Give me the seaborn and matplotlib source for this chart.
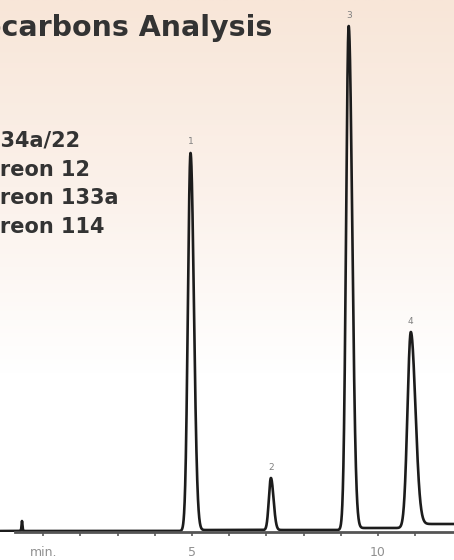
import numpy as np
import pandas as pd
import seaborn as sns
import matplotlib.pyplot as plt
from matplotlib.colors import LinearSegmentedColormap

# peak table (time in min, height in detector units)
peak_ids = ['1', '2', '3', '4']
peak_times = [4.96, 7.12, 9.21, 10.88]
peak_heights = [378, 52, 504, 196]
peak_sigma_left = [0.07, 0.055, 0.07, 0.09]
peak_sigma_right = [0.09, 0.07, 0.095, 0.125]
peak_tail = [1.0, 0.0, 2.0, 4.0]

compounds = ['134a/22', 'Freon 12', 'Freon 133a', 'Freon 114']

spike_time = 0.43
spike_height = 10

x_ticks = [1, 2, 3, 4, 5, 6, 7, 8, 9, 10, 11]
x_tick_labels = ['min.', '', '', '', '5', '', '', '', '', '10', '']

# build the detector trace from the peak table
t = np.linspace(-0.16, 12.04, 5000)
signal = np.zeros_like(t)
signal += spike_height * np.exp(-0.5 * ((t - spike_time) / 0.012) ** 2)
for tr, h, sl, sr, tl in zip(peak_times, peak_heights, peak_sigma_left,
                             peak_sigma_right, peak_tail):
    sig = np.where(t < tr, sl, sr)
    signal += h * np.exp(-0.5 * ((t - tr) / sig) ** 2)
    signal += tl * 0.5 * (1 + np.tanh((t - tr - 0.25) / 0.08))
trace = pd.DataFrame({'time': t, 'signal': signal})

sns.set_style('white')
fig = plt.figure(figsize=(4.54, 5.6), dpi=100)

# peach fade in the background
bg = fig.add_axes([0, 0, 1, 1])
bg_cmap = LinearSegmentedColormap.from_list('bg', ['#FFFFFF', '#FFFFFF', '#FBF1EA', '#F8E6D8'])
grad = np.linspace(0, 1, 256).reshape(-1, 1)
bg.imshow(grad, aspect='auto', cmap=bg_cmap, origin='lower', extent=[0, 1, 0, 1])
bg.set_axis_off()

ax = fig.add_axes([0, 28 / 560, 1, 1 - 28 / 560])
ax.set_facecolor('none')
sns.lineplot(data=trace, x='time', y='signal', color='#1c1c1c', linewidth=1.9, ax=ax)
ax.set_xlim(-0.16, 12.04)
ax.set_ylim(-1, 531)

# peak numbers
levels = np.cumsum([0] + peak_tail[:-1])
for pid, tr, h, lv in zip(peak_ids, peak_times, peak_heights, levels):
    ax.text(tr, h + lv + 11, pid, ha='center', va='center', fontsize=6.5, color='#808080')

for s in ['top', 'left', 'right']:
    ax.spines[s].set_visible(False)
ax.spines['bottom'].set_color('#555555')
ax.spines['bottom'].set_linewidth(2)
ax.spines['bottom'].set_bounds(0.24, 12.04)
ax.set_yticks([])
ax.set_xticks(x_ticks)
ax.set_xticklabels(x_tick_labels)
ax.tick_params(axis='x', direction='out', length=3, width=1.3, color='#666666',
               labelsize=9, labelcolor='#909090', pad=7, bottom=True)
ax.set_xlabel('')
ax.set_ylabel('')

# title and compound list, cut off by the left edge like the source
fig.text(272 / 454, 1 - 35.5 / 560, 'Halocarbons Analysis', ha='right', va='baseline',
         fontsize=20.5, fontweight='bold', color='#333333', family='DejaVu Sans')
for i, name in enumerate(compounds):
    fig.text(-13 / 454, 1 - (147 + 28.7 * i) / 560, name, ha='left', va='baseline',
             fontsize=15, fontweight='bold', color='#333333', family='DejaVu Sans')

fig.savefig('out.png', dpi=100)
